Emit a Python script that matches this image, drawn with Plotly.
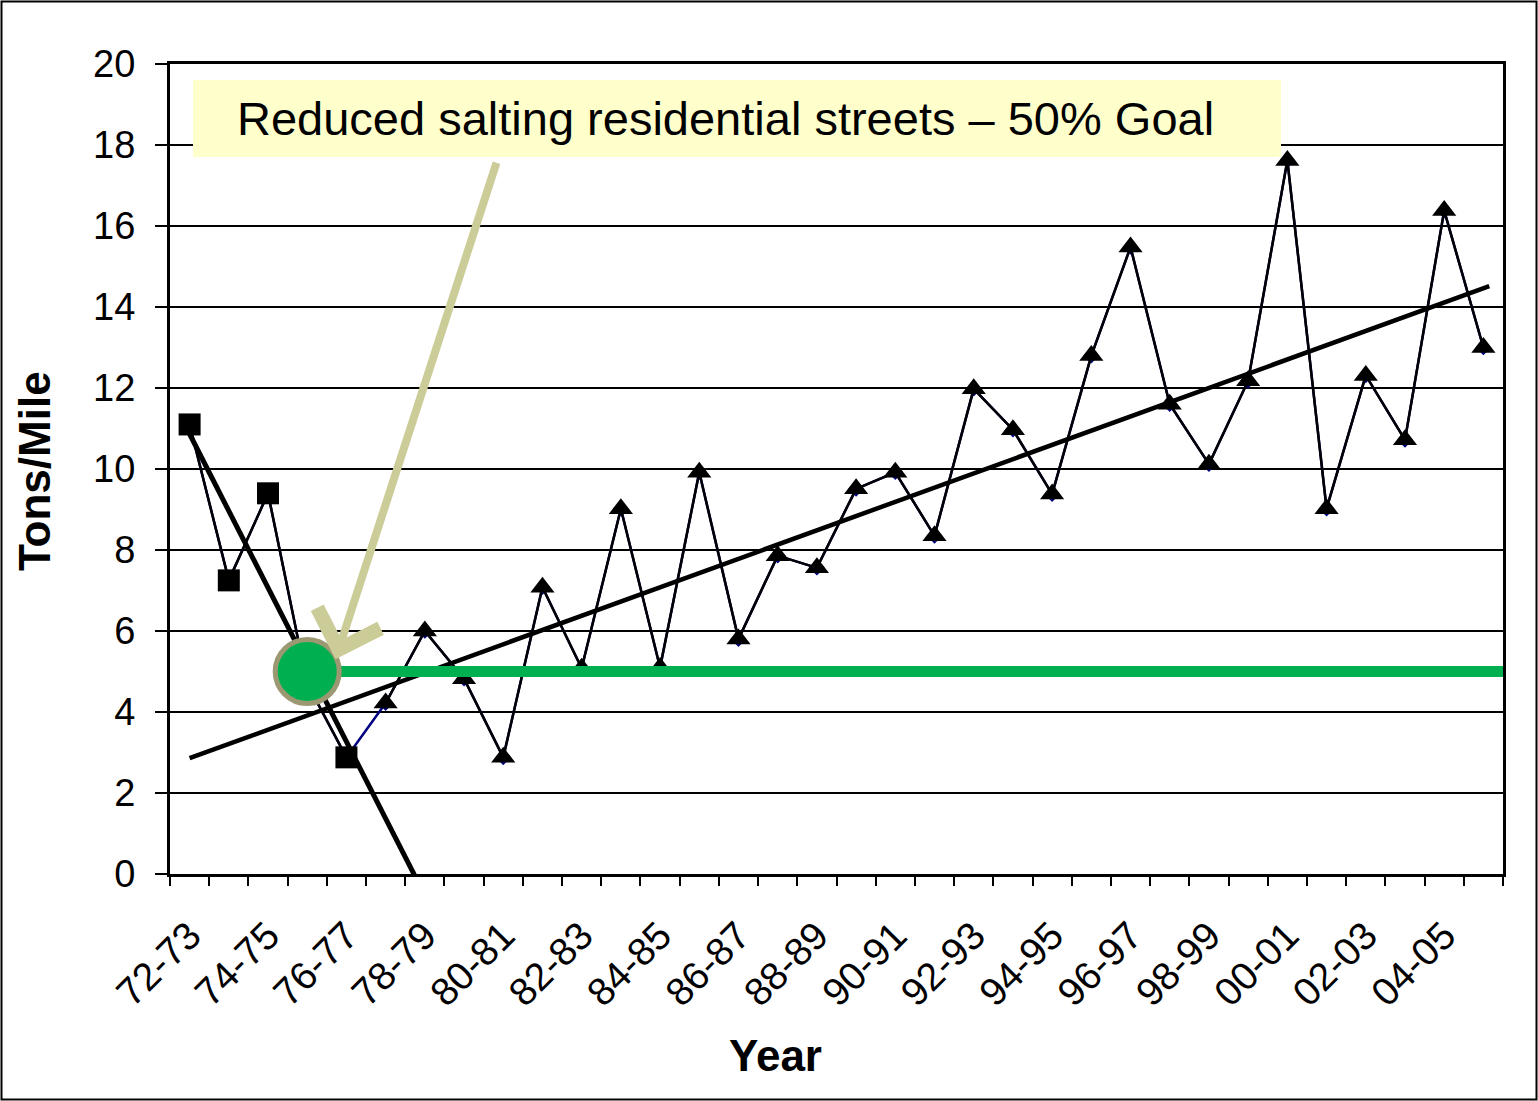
import numpy as np
import plotly.graph_objects as go

# ---------------- data ----------------
years = ["72-73", "73-74", "74-75", "75-76", "76-77", "77-78", "78-79", "79-80",
         "80-81", "81-82", "82-83", "83-84", "84-85", "85-86", "86-87", "87-88",
         "88-89", "89-90", "90-91", "91-92", "92-93", "93-94", "94-95", "95-96",
         "96-97", "97-98", "98-99", "99-00", "00-01", "01-02", "02-03", "03-04",
         "04-05", "05-06"]

# full record (navy diamonds)
tons_all = [11.1, 7.25, 9.4, 4.7, 2.88, 4.22, 6.0, 4.82, 2.88, 7.08, 5.08, 9.02,
            5.1, 9.92, 5.8, 7.86, 7.56, 9.51, 9.92, 8.35, 11.98, 10.97, 9.38,
            12.8, 15.48, 11.6, 10.12, 12.18, 17.62, 9.02, 12.31, 10.72, 16.38, 13.0]

# early years (black squares) and later years (black triangles)
early_idx = [0, 1, 2, 3, 4]
late_idx = list(range(5, 34))

goal_value = 5.0
goal_index = 3

annotation_text = "Reduced salting residential streets \u2013 50% Goal"

# ---------------- helpers ----------------
W, H = 1538, 1101
L, R, T, B = 170, 35, 64, 227
PW, PH = W - L - R, H - T - B


def px_x(p):
    return (p - L) / PW


def px_y(p):
    return (H - B - p) / PH


xs = np.arange(len(years))
early_x = [xs[i] for i in early_idx]
early_y = [tons_all[i] for i in early_idx]
late_x = [xs[i] for i in late_idx]
late_y = [tons_all[i] for i in late_idx]

# linear trendlines fitted to each group
b1 = np.polyfit(early_x, early_y, 1)
t1x = np.array([0, 7])
t1y = np.polyval(b1, t1x)
b2 = np.polyfit(late_x, late_y, 1)
t2x = np.array([0, 33.15])
t2y = np.polyval(b2, t2x)

FONT = "Liberation Sans, Arial, sans-serif"

fig = go.Figure()

# navy series (full record)
fig.add_trace(go.Scatter(x=xs, y=tons_all, mode="lines+markers",
                         line=dict(color="#000080", width=2.5),
                         marker=dict(symbol="diamond", size=12, color="#000080"),
                         showlegend=False))
# squares
fig.add_trace(go.Scatter(x=early_x, y=early_y, mode="lines+markers",
                         line=dict(color="black", width=2.5),
                         marker=dict(symbol="square", size=22, color="black"),
                         showlegend=False))
# triangles
fig.add_trace(go.Scatter(x=late_x, y=late_y, mode="lines+markers",
                         line=dict(color="black", width=2.5),
                         marker=dict(symbol="triangle-up", size=21, color="black"),
                         showlegend=False))
# trendlines
fig.add_trace(go.Scatter(x=t1x, y=t1y, mode="lines",
                         line=dict(color="black", width=5), showlegend=False))
fig.add_trace(go.Scatter(x=t2x, y=t2y, mode="lines",
                         line=dict(color="black", width=4.5), showlegend=False))
# goal line
fig.add_trace(go.Scatter(x=[goal_index, len(years) - 0.45], y=[goal_value, goal_value],
                         mode="lines", line=dict(color="#00B050", width=11),
                         showlegend=False))
# goal dot
fig.add_trace(go.Scatter(x=[goal_index], y=[goal_value], mode="markers",
                         marker=dict(size=64, color="#00B050",
                                     line=dict(color="#9B9872", width=5)),
                         showlegend=False, cliponaxis=False))
# dummy trace for the secondary (tick-only) x axis
fig.add_trace(go.Scatter(x=[0], y=[0], xaxis="x2", mode="markers",
                         marker=dict(opacity=0), showlegend=False, hoverinfo="skip"))

even = list(range(0, len(years), 2))
fig.update_layout(
    width=W, height=H,
    margin=dict(l=L, r=R, t=T, b=B),
    paper_bgcolor="white", plot_bgcolor="white",
    font=dict(family=FONT, color="black", size=38),
    xaxis=dict(range=[-0.5, len(years) - 0.5], tickvals=even,
               ticktext=[years[i] for i in even], tickangle=-45,
               ticks="", showgrid=False, zeroline=False,
               showline=True, linecolor="black", linewidth=3, mirror=True,
               tickfont=dict(size=39), ticklabelstandoff=20),
    xaxis2=dict(overlaying="x", side="bottom", range=[-0.5, len(years) - 0.5],
                tickvals=np.arange(-0.5, len(years), 1.0), showticklabels=False,
                ticks="outside", ticklen=11, tickwidth=2, tickcolor="black",
                showgrid=False, zeroline=False, showline=False),
    yaxis=dict(range=[0, 20], dtick=2, tick0=0, showgrid=True,
               gridcolor="black", gridwidth=2, zeroline=False,
               showline=True, linecolor="black", linewidth=3, mirror=True,
               ticks="outside", ticklen=12, tickwidth=2, tickcolor="black",
               tickfont=dict(size=38), ticklabelstandoff=12),
)

shapes = [
    # outer frame
    dict(type="rect", xref="paper", yref="paper",
         x0=px_x(1.5), x1=px_x(1536.5), y0=px_y(1099.5), y1=px_y(1.5),
         line=dict(color="black", width=2), fillcolor="rgba(0,0,0,0)", layer="above"),
    # yellow callout box
    dict(type="rect", xref="paper", yref="paper",
         x0=px_x(193), x1=px_x(1281), y0=px_y(157), y1=px_y(80),
         line=dict(width=0), fillcolor="#FFFFCC", layer="above"),
]
fig.update_layout(shapes=shapes)

annotations = [
    dict(text=annotation_text, xref="paper", yref="paper",
         x=px_x(725), y=px_y(119), xanchor="center", yanchor="middle",
         showarrow=False, font=dict(size=47, family=FONT, color="black")),
    # arrow
    dict(text="", x=3.72, y=5.3, ax=7.84, ay=17.6, xref="x", yref="y",
         axref="x", ayref="y", showarrow=True, arrowhead=4, arrowsize=1.6,
         arrowwidth=8, arrowcolor="#CCCC99", standoff=0),
    dict(text="<b>Year</b>", xref="paper", yref="paper",
         x=px_x(775), y=px_y(1055), xanchor="center", yanchor="middle",
         showarrow=False, font=dict(size=44, family=FONT, color="black")),
    dict(text="<b>Tons/Mile</b>", xref="paper", yref="paper",
         x=px_x(34), y=px_y(471), xanchor="center", yanchor="middle",
         textangle=-90, showarrow=False,
         font=dict(size=44, family=FONT, color="black")),
]
fig.update_layout(annotations=annotations)

fig.write_html("out.html")
